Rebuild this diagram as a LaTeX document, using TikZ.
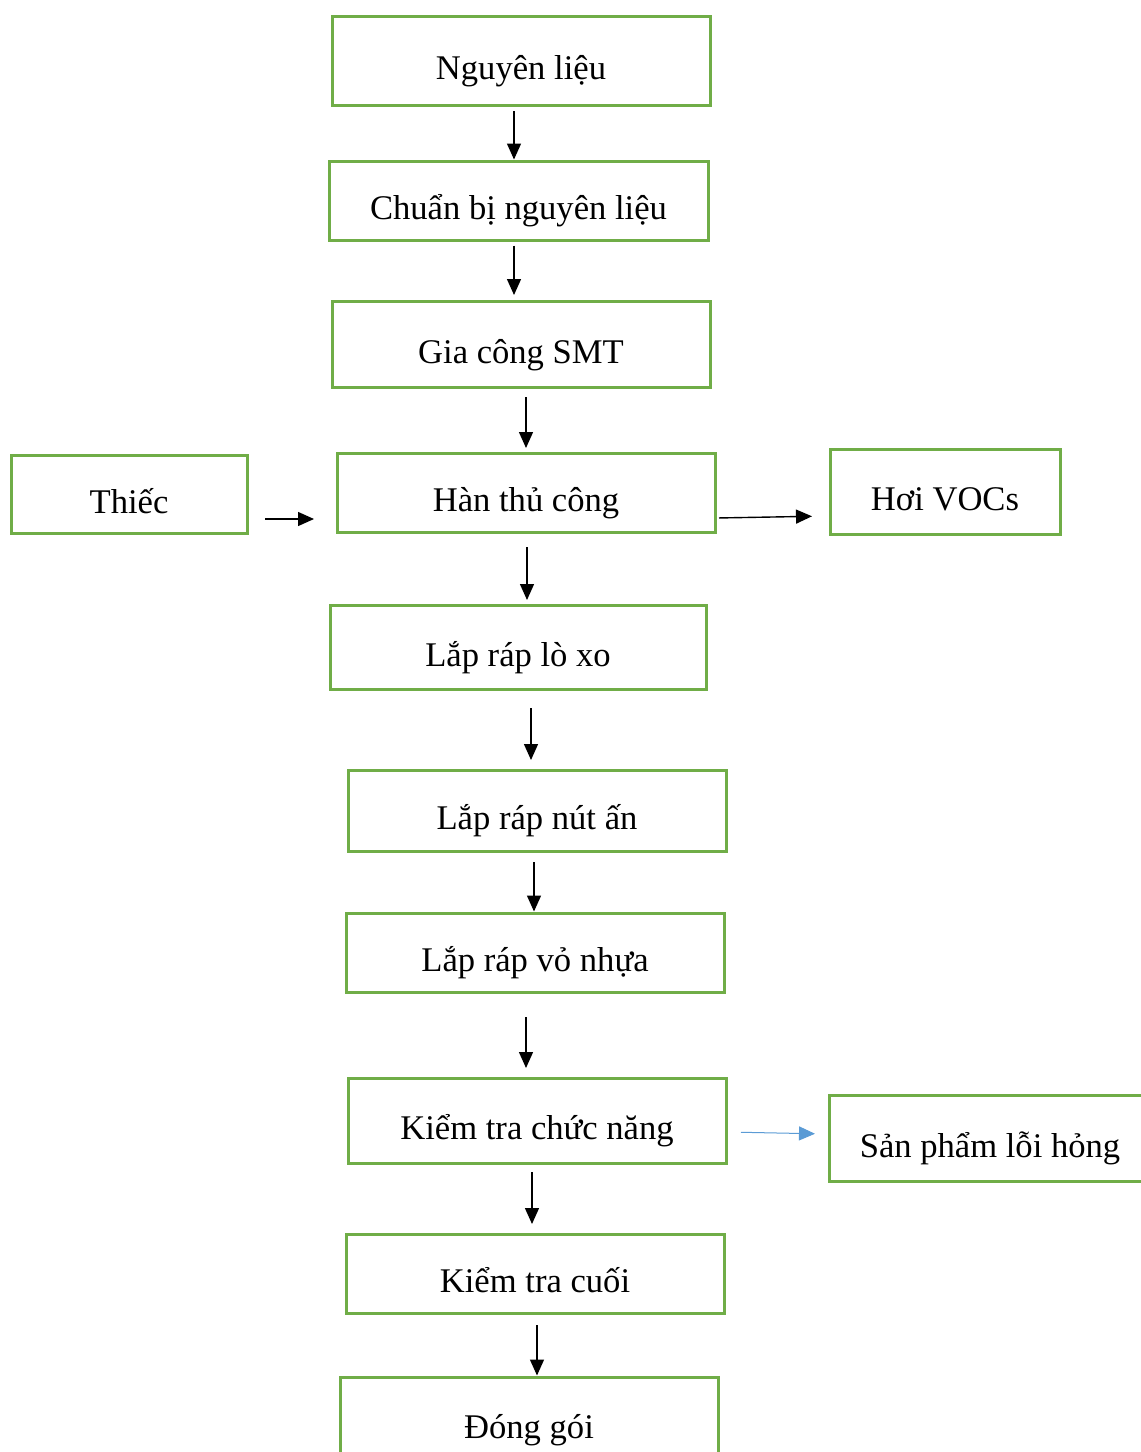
\documentclass[tikz,border=0pt]{standalone}
\usepackage{fontspec}
\setmainfont{Liberation Serif}
\usetikzlibrary{arrows.meta}
\definecolor{boxgreen}{HTML}{70AD47}
\definecolor{sideblue}{HTML}{5B9BD5}
\tikzset{
  stepbox/.style={draw=boxgreen, line width=1.5pt, fill=white,
    minimum width=#1, inner sep=0pt, text height=19pt, text depth=0pt,
    font=\fontsize{17.3pt}{20pt}\selectfont},
  arr/.style={draw=black, line width=0.7pt,
    -{Triangle[length=8pt,width=7pt]}},
  bluearr/.style={draw=sideblue, line width=0.5pt,
    -{Triangle[length=8pt,width=7pt]}}
}
\begin{document}
\begin{tikzpicture}[x=0.5pt,y=-0.5pt]
\useasboundingbox (0,0) rectangle (1141,1452);
\clip (0,0) rectangle (1141,1452);

% main process chain
\node[stepbox=189pt, minimum height=44.5pt] (n1)  at (521,60.5)   {Nguyên liệu};
\node[stepbox=189.5pt, minimum height=39.5pt] (n2) at (518.5,200.5) {Chuẩn bị nguyên liệu};
\node[stepbox=189pt, minimum height=43pt] (n3)  at (521,344)    {Gia công SMT};
\node[stepbox=189pt, minimum height=39.5pt] (n4)  at (526,492.5)  {Hàn thủ công};
\node[stepbox=188pt, minimum height=42pt] (n5)  at (518,647)    {Lắp ráp lò xo};
\node[stepbox=189pt, minimum height=40.5pt] (n6)  at (537,810.5)  {Lắp ráp nút ấn};
\node[stepbox=189pt, minimum height=39.5pt] (n7)  at (535,952.5)  {Lắp ráp vỏ nhựa};
\node[stepbox=189pt, minimum height=42.5pt] (n8)  at (537,1120.5) {Kiểm tra chức năng};
\node[stepbox=189pt, minimum height=39.5pt] (n9)  at (535,1273.5) {Kiểm tra cuối};
\node[stepbox=189pt, minimum height=42pt] (n10) at (529,1419)   {Đóng gói};

% inputs and outputs
\node[stepbox=118pt, minimum height=39pt] (thiec) at (129,494)   {Thiếc};
\node[stepbox=115pt, minimum height=42.5pt] (voc) at (945,491.5) {Hơi VOCs};
\node[stepbox=161pt, minimum height=43pt] (loi)   at (990,1138)  {Sản phẩm lỗi hỏng};

% vertical flow
\draw[arr, shorten <=2.25pt, shorten >=0pt]
  ([xshift=-3.5pt]n1.south) -- ([xshift=-2.25pt]n2.north);
\draw[arr, shorten <=2pt, shorten >=2.25pt]
  ([xshift=-2.25pt]n2.south) -- ([xshift=-3.5pt]n3.north);
\draw[arr, shorten <=4.25pt, shorten >=1.75pt]
  ([xshift=2.5pt]n3.south) -- (n4.north);
\draw[arr, shorten <=6.75pt, shorten >=1.75pt]
  ([xshift=0.5pt]n4.south) -- ([xshift=4.5pt]n5.north);
\draw[arr, shorten <=8.75pt, shorten >=4.25pt]
  ([xshift=6.5pt]n5.south) -- ([xshift=-3pt]n6.north);
\draw[arr, shorten <=4.75pt, shorten >=0pt]
  ([xshift=-1.5pt]n6.south) -- ([xshift=-0.5pt]n7.north);
\draw[arr, shorten <=11.75pt, shorten >=4.25pt]
  ([xshift=-4.5pt]n7.south) -- ([xshift=-5.5pt]n8.north);
\draw[arr, shorten <=3.75pt, shorten >=4.25pt]
  ([xshift=-2.5pt]n8.south) -- ([xshift=-1.5pt]n9.north);
\draw[arr, shorten <=5.25pt, shorten >=0pt]
  ([xshift=1pt]n9.south) -- ([xshift=4pt]n10.north);

% side flows
\draw[arr, shorten <=8.25pt, shorten >=10.75pt]
  ([yshift=-12.5pt]thiec.east) -- ([yshift=-13.25pt]n4.west);
\draw[arr, shorten <=1.25pt, shorten >=8.25pt]
  ([yshift=-12.75pt]n4.east) -- ([yshift=-12.25pt]voc.west);
\draw[bluearr, shorten <=6.75pt, shorten >=6.25pt]
  ([yshift=-5.75pt]n8.east) -- ([yshift=2pt]loi.west);
\end{tikzpicture}
\end{document}
